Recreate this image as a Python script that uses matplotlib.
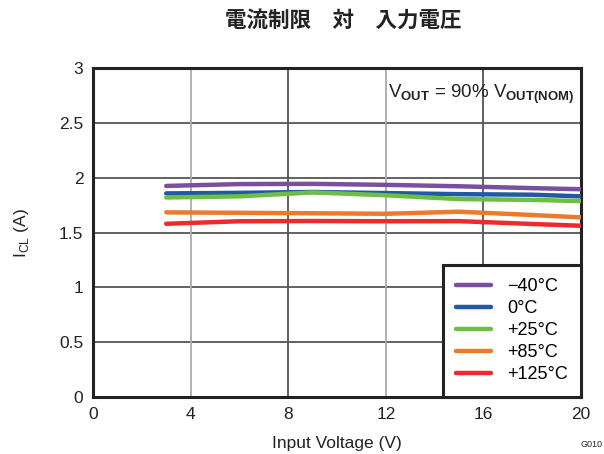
import matplotlib.pyplot as plt
import numpy as np

plt.rcParams['font.family'] = ['Liberation Sans', 'DejaVu Sans']
plt.rcParams['mathtext.fontset'] = 'custom'
plt.rcParams['mathtext.rm'] = 'Liberation Sans'
plt.rcParams['mathtext.bf'] = 'Liberation Sans:bold'

# input voltage sweep (V)
vin = [3, 6, 9, 12, 15, 18, 20]

# current limit (A) per temperature
icl_m40 = [1.925, 1.942, 1.944, 1.935, 1.922, 1.905, 1.895]
icl_0 = [1.857, 1.862, 1.870, 1.860, 1.850, 1.845, 1.830]
icl_25 = [1.820, 1.830, 1.866, 1.840, 1.805, 1.798, 1.787]
icl_85 = [1.684, 1.680, 1.676, 1.671, 1.690, 1.660, 1.638]
icl_125 = [1.580, 1.603, 1.605, 1.603, 1.604, 1.578, 1.562]

labels = ['\u221240°C', '0°C', '+25°C', '+85°C', '+125°C']
colors = ['#7B4FA0', '#2158A8', '#6CBE45', '#EB7A2D', '#EE2A2E']
series = [icl_m40, icl_0, icl_25, icl_85, icl_125]

fig = plt.figure(figsize=(6.04, 4.54), dpi=100)
ax = fig.add_axes([0.154, 0.1256, 0.808, 0.7244])

for y, c, lab in zip(series, colors, labels):
    ax.plot(vin, y, color=c, lw=3.2, label=lab, solid_capstyle='round', zorder=3)

ax.set_xlim(0, 20)
ax.set_ylim(0, 3)
ax.set_xticks(np.arange(0, 21, 4))
ax.set_yticks(np.arange(0, 3.01, 0.5))
ax.set_yticklabels(['0', '0.5', '1', '1.5', '2', '2.5', '3'])
ax.tick_params(length=0, labelsize=12.5, pad=7, colors='#222222')

# grid: horizontal dark, vertical alternating light/dark
for yv in np.arange(0.5, 3.0, 0.5):
    ax.axhline(yv, color='#555555', lw=1.3, zorder=1)
for xv, gc in zip([4, 8, 12, 16], ['#aaaaaa', '#555555', '#aaaaaa', '#555555']):
    ax.axvline(xv, color=gc, lw=1.3, zorder=1)

for s in ax.spines.values():
    s.set_linewidth(2.2)
    s.set_color('#222222')

ax.set_xlabel('Input Voltage (V)', fontsize=12.5, color='#222222', labelpad=10)
ax.set_ylabel(r'I$_{\mathrm{CL}}$ (A)', fontsize=12.5, color='#222222', labelpad=20)

ax.text(0.985, 0.955, r'V$_{\mathbf{OUT}}$ = 90% V$_{\mathbf{OUT(NOM)}}$',
        transform=ax.transAxes, ha='right', va='top', fontsize=13.5, color='#222222')

leg = ax.legend(loc='lower right', borderaxespad=0, fontsize=13, fancybox=False,
                framealpha=1, edgecolor='#222222', handlelength=1.9,
                labelspacing=0.28, borderpad=0.75, handletextpad=0.9)
leg.get_frame().set_linewidth(2.2)
leg.set_zorder(5)

fig.text(0.568, 0.955, '電流制限　対　入力電圧', ha='center', va='center', fontsize=15.5,
         fontweight='bold', family=['Noto Sans CJK JP', 'DejaVu Sans'], color='#222222')
fig.text(0.998, 0.01, 'G010', ha='right', va='bottom', fontsize=6.5, color='#222222')

fig.savefig('out.png', dpi=100)
